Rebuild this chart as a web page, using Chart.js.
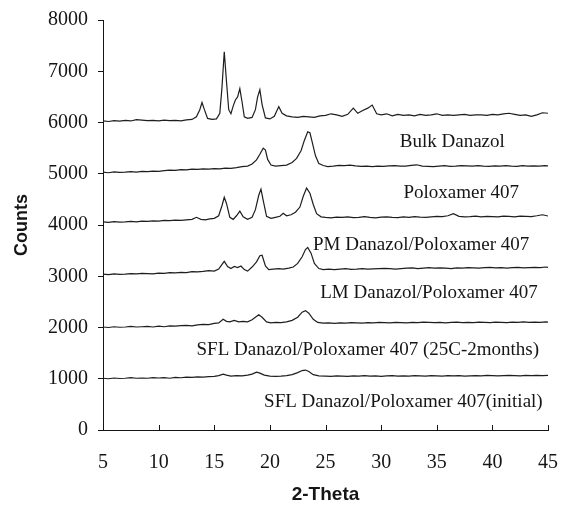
<!DOCTYPE html>
<html>
<head>
<meta charset="utf-8">
<script src="https://cdn.jsdelivr.net/npm/chart.js@4"></script>
<style>
  html, body { margin: 0; padding: 0; background: #fff; }
  #box { width: 561px; height: 508px; }
</style>
</head>
<body>
<div id="box"><canvas id="xrdChart"></canvas></div>
<script>
// diffractogrammes : [2-theta, counts]
const bulkDanazol = [
  [5,6030],[5.5,6020],[6,6035],[6.5,6025],[7,6040],[7.5,6030],[8,6055],[8.5,6045],[9,6035],[9.5,6040],
  [10,6030],[10.5,6045],[11,6035],[11.5,6040],[12,6030],[12.5,6050],[13,6060],[13.4,6110],[13.7,6250],[13.9,6390],
  [14.1,6260],[14.4,6080],[14.8,6060],[15.2,6070],[15.5,6180],[15.7,6700],[15.9,7380],[16.1,6800],[16.3,6250],[16.5,6170],
  [16.7,6320],[16.9,6440],[17.1,6500],[17.3,6660],[17.5,6400],[17.7,6110],[18,6080],[18.4,6100],[18.7,6250],[18.9,6500],
  [19.1,6640],[19.3,6350],[19.6,6090],[20,6070],[20.4,6120],[20.8,6310],[21.1,6180],[21.5,6130],[22,6110],[22.5,6100],
  [23,6120],[23.5,6110],[24,6100],[24.5,6130],[25,6140],[25.5,6170],[26,6150],[26.5,6120],[27,6160],[27.5,6280],
  [27.9,6180],[28.3,6230],[28.8,6280],[29.2,6340],[29.6,6170],[30,6150],[30.5,6170],[31,6130],[31.5,6160],[32,6140],
  [32.5,6150],[33,6130],[33.5,6160],[34,6140],[34.5,6150],[35,6170],[35.5,6140],[36,6150],[36.5,6140],[37,6150],
  [37.5,6160],[38,6140],[38.5,6150],[39,6150],[39.5,6140],[40,6160],[40.5,6150],[41,6170],[41.5,6180],[42,6160],
  [42.5,6140],[43,6150],[43.5,6120],[44,6150],[44.5,6190],[45,6180]
];
const poloxamer407 = [
  [5,5030],[5.5,5020],[6,5035],[6.5,5025],[7,5030],[7.5,5040],[8,5030],[8.5,5045],[9,5040],[9.5,5050],
  [10,5045],[10.5,5060],[11,5070],[11.5,5065],[12,5080],[12.5,5075],[13,5090],[13.5,5085],[14,5095],[14.5,5090],
  [15,5100],[15.5,5095],[16,5110],[16.5,5105],[17,5120],[17.5,5140],[18,5150],[18.4,5190],[18.8,5270],[19.1,5380],
  [19.4,5500],[19.6,5460],[19.8,5280],[20.1,5170],[20.5,5150],[21,5160],[21.5,5170],[22,5220],[22.4,5300],[22.8,5450],
  [23.1,5650],[23.4,5820],[23.6,5800],[23.8,5620],[24.1,5350],[24.4,5200],[24.8,5160],[25.2,5140],[25.7,5150],[26.2,5165],
  [26.7,5160],[27.2,5170],[27.7,5155],[28.2,5145],[28.7,5150],[29.2,5140],[29.7,5150],[30.2,5145],[30.7,5155],[31.2,5160],
  [31.7,5150],[32.2,5150],[32.7,5165],[33.2,5175],[33.7,5150],[34.2,5145],[34.7,5140],[35.2,5150],[35.7,5160],[36.2,5145],
  [36.7,5150],[37.2,5160],[37.7,5155],[38.2,5150],[38.7,5160],[39.2,5150],[39.7,5145],[40.2,5155],[40.7,5150],[41.2,5160],
  [41.7,5150],[42.2,5145],[42.7,5160],[43.2,5150],[43.7,5155],[44.2,5150],[44.7,5160],[45,5155]
];
const pmMix = [
  [5,4060],[5.5,4050],[6,4065],[6.5,4055],[7,4060],[7.5,4070],[8,4060],[8.5,4075],[9,4070],[9.5,4080],
  [10,4075],[10.5,4090],[11,4085],[11.5,4095],[12,4090],[12.5,4100],[13,4110],[13.4,4150],[13.8,4110],[14.2,4100],
  [14.6,4120],[15,4130],[15.4,4180],[15.7,4380],[15.9,4540],[16.1,4420],[16.4,4150],[16.7,4110],[17,4180],[17.3,4270],
  [17.6,4160],[18,4110],[18.4,4150],[18.7,4300],[19,4580],[19.2,4700],[19.4,4480],[19.7,4170],[20.1,4130],[20.5,4150],
  [20.9,4170],[21.2,4230],[21.5,4180],[21.9,4200],[22.3,4250],[22.7,4350],[23,4560],[23.3,4720],[23.6,4620],[23.9,4400],
  [24.2,4220],[24.6,4160],[25,4150],[25.5,4140],[26,4155],[26.5,4150],[27,4160],[27.5,4145],[28,4150],[28.5,4165],
  [29,4150],[29.5,4140],[30,4155],[30.5,4160],[31,4150],[31.5,4145],[32,4160],[32.5,4150],[33,4165],[33.5,4155],
  [34,4150],[34.5,4160],[35,4170],[35.5,4165],[36,4180],[36.5,4220],[37,4170],[37.5,4160],[38,4165],[38.5,4175],
  [39,4160],[39.5,4170],[40,4165],[40.5,4160],[41,4175],[41.5,4170],[42,4160],[42.5,4175],[43,4170],[43.5,4165],
  [44,4180],[44.5,4200],[45,4175]
];
const lmMix = [
  [5,3040],[5.5,3030],[6,3045],[6.5,3035],[7,3040],[7.5,3050],[8,3045],[8.5,3055],[9,3050],[9.5,3045],
  [10,3060],[10.5,3055],[11,3070],[11.5,3065],[12,3075],[12.5,3070],[13,3090],[13.5,3085],[14,3095],[14.5,3110],
  [15,3100],[15.4,3140],[15.7,3230],[15.9,3290],[16.2,3190],[16.5,3150],[16.8,3190],[17.1,3170],[17.4,3200],[17.7,3130],
  [18,3100],[18.4,3180],[18.8,3280],[19.1,3400],[19.3,3410],[19.6,3200],[19.9,3130],[20.3,3140],[20.8,3150],[21.2,3140],
  [21.7,3160],[22.1,3180],[22.5,3250],[22.9,3380],[23.2,3520],[23.4,3560],[23.7,3450],[24,3250],[24.4,3150],[24.8,3130],
  [25.3,3140],[25.8,3130],[26.3,3140],[26.8,3150],[27.3,3135],[27.8,3140],[28.3,3150],[28.8,3140],[29.3,3145],[29.8,3150],
  [30.3,3155],[30.8,3150],[31.3,3140],[31.8,3150],[32.3,3160],[32.8,3165],[33.3,3150],[33.8,3160],[34.3,3170],[34.8,3160],
  [35.3,3165],[35.8,3160],[36.3,3150],[36.8,3165],[37.3,3160],[37.8,3170],[38.3,3165],[38.8,3160],[39.3,3170],[39.8,3175],
  [40.3,3165],[40.8,3170],[41.3,3160],[41.8,3170],[42.3,3175],[42.8,3165],[43.3,3170],[43.8,3175],[44.3,3170],[44.8,3180],
  [45,3175]
];
const sfl25C = [
  [5,2010],[5.5,2000],[6,2015],[6.5,2005],[7,2010],[7.5,2020],[8,2010],[8.5,2015],[9,2020],[9.5,2010],
  [10,2025],[10.5,2015],[11,2030],[11.5,2025],[12,2035],[12.5,2040],[13,2030],[13.5,2050],[14,2060],[14.5,2055],
  [15,2080],[15.4,2090],[15.8,2160],[16.1,2120],[16.4,2110],[16.8,2140],[17.2,2110],[17.6,2120],[18,2110],[18.4,2150],
  [18.7,2200],[19,2250],[19.3,2200],[19.7,2110],[20.1,2090],[20.5,2100],[21,2095],[21.5,2110],[22,2140],[22.5,2200],
  [22.9,2300],[23.2,2330],[23.5,2280],[23.9,2160],[24.3,2100],[24.8,2085],[25.3,2090],[25.8,2080],[26.3,2090],[26.8,2085],
  [27.3,2095],[27.8,2090],[28.3,2085],[28.8,2095],[29.3,2090],[29.8,2100],[30.3,2095],[30.8,2090],[31.3,2100],[31.8,2095],
  [32.3,2090],[32.8,2100],[33.3,2095],[33.8,2105],[34.3,2100],[34.8,2095],[35.3,2100],[35.8,2090],[36.3,2100],[36.8,2105],
  [37.3,2095],[37.8,2100],[38.3,2095],[38.8,2105],[39.3,2100],[39.8,2095],[40.3,2105],[40.8,2100],[41.3,2095],[41.8,2105],
  [42.3,2100],[42.8,2110],[43.3,2100],[43.8,2105],[44.3,2100],[44.8,2110],[45,2105]
];
const sflInitial = [
  [5,1010],[5.5,1000],[6,1015],[6.5,1005],[7,1010],[7.5,1020],[8,1010],[8.5,1015],[9,1010],[9.5,1020],
  [10,1015],[10.5,1020],[11,1010],[11.5,1025],[12,1020],[12.5,1030],[13,1025],[13.5,1035],[14,1030],[14.5,1040],
  [15,1045],[15.4,1060],[15.8,1090],[16.1,1070],[16.5,1050],[17,1060],[17.5,1055],[18,1070],[18.4,1090],[18.8,1130],
  [19.1,1110],[19.5,1070],[20,1050],[20.5,1045],[21,1050],[21.5,1060],[22,1080],[22.5,1120],[22.9,1160],[23.2,1170],
  [23.5,1140],[23.9,1080],[24.4,1055],[25,1050],[25.5,1045],[26,1055],[26.5,1050],[27,1045],[27.5,1055],[28,1050],
  [28.5,1060],[29,1050],[29.5,1055],[30,1045],[30.5,1055],[31,1060],[31.5,1050],[32,1055],[32.5,1050],[33,1060],
  [33.5,1055],[34,1050],[34.5,1060],[35,1055],[35.5,1050],[36,1060],[36.5,1055],[37,1060],[37.5,1050],[38,1055],
  [38.5,1060],[39,1055],[39.5,1065],[40,1060],[40.5,1055],[41,1060],[41.5,1065],[42,1060],[42.5,1055],[43,1065],
  [43.5,1060],[44,1065],[44.5,1060],[45,1065]
];

const seriesNames = [
  'Bulk Danazol',
  'Poloxamer 407',
  'PM Danazol/Poloxamer 407',
  'LM Danazol/Poloxamer 407',
  'SFL Danazol/Poloxamer 407 (25C-2months)',
  'SFL Danazol/Poloxamer 407(initial)'
];
const seriesData = [bulkDanazol, poloxamer407, pmMix, lmMix, sfl25C, sflInitial];

// ou poser chaque etiquette (centre du texte, en unites des axes)
const labelAt = [[36.4, 5620], [37.2, 4625], [33.6, 3610], [34.3, 2673], [28.8, 1560], [32.0, 546]];

const serif = "'Liberation Serif', 'Times New Roman', serif";
const sans = "'Liberation Sans', Arial, sans-serif";
const ink = '#151515';

// etiquettes des courbes + petites graduations vers l'interieur sur l'axe x
const xrdLabels = {
  id: 'xrdLabels',
  afterDatasetsDraw(chart) {
    const {ctx, scales: {x, y}} = chart;
    ctx.save();
    ctx.fillStyle = ink;
    ctx.font = '19px ' + serif;
    ctx.textAlign = 'center';
    ctx.textBaseline = 'middle';
    seriesNames.forEach((name, i) => {
      ctx.fillText(name, x.getPixelForValue(labelAt[i][0]), y.getPixelForValue(labelAt[i][1]));
    });
    ctx.strokeStyle = ink;
    ctx.lineWidth = 1;
    const yb = y.getPixelForValue(0);
    x.ticks.forEach(t => {
      const px = Math.round(x.getPixelForValue(t.value)) + 0.5;
      ctx.beginPath();
      ctx.moveTo(px, yb);
      ctx.lineTo(px, yb - 5);
      ctx.stroke();
    });
    ctx.restore();
  }
};

new Chart(document.getElementById('xrdChart'), {
  type: 'line',
  data: {
    datasets: seriesData.map((d, i) => ({
      label: seriesNames[i],
      data: d.map(p => ({x: p[0], y: p[1]})),
      borderColor: '#1e1e1e',
      borderWidth: 1.2,
      pointRadius: 0,
      tension: 0,
      fill: false
    }))
  },
  options: {
    responsive: true,
    maintainAspectRatio: false,
    animation: false,
    layout: {padding: {left: 11, right: 13, top: 20, bottom: 0}},
    plugins: {
      legend: {display: false},
      tooltip: {enabled: false}
    },
    scales: {
      x: {
        type: 'linear',
        min: 5,
        max: 45,
        ticks: {stepSize: 5, padding: 21, color: ink, font: {family: serif, size: 20}, callback: v => String(v)},
        grid: {drawOnChartArea: false, drawTicks: false},
        border: {color: ink, width: 1},
        title: {display: true, text: '2-Theta', color: ink, font: {family: sans, size: 19, weight: 'bold'}, padding: {top: 8.6, bottom: 1.6}},
        afterFit: s => { s.height = 78; s.paddingLeft = 0; s.paddingRight = 0; }
      },
      y: {
        min: 0,
        max: 8000,
        ticks: {stepSize: 1000, padding: 10, color: ink, font: {family: serif, size: 20}, callback: v => String(v)},
        grid: {drawOnChartArea: false, tickLength: 5, color: ink},
        border: {color: ink, width: 1},
        title: {display: true, text: 'Counts', color: ink, font: {family: sans, size: 18, weight: 'bold'}, padding: {top: 0, bottom: 0}},
        afterFit: s => { s.width = 92; s.paddingTop = 0; s.paddingBottom = 0; }
      }
    }
  },
  plugins: [xrdLabels]
});
</script>
</body>
</html>
